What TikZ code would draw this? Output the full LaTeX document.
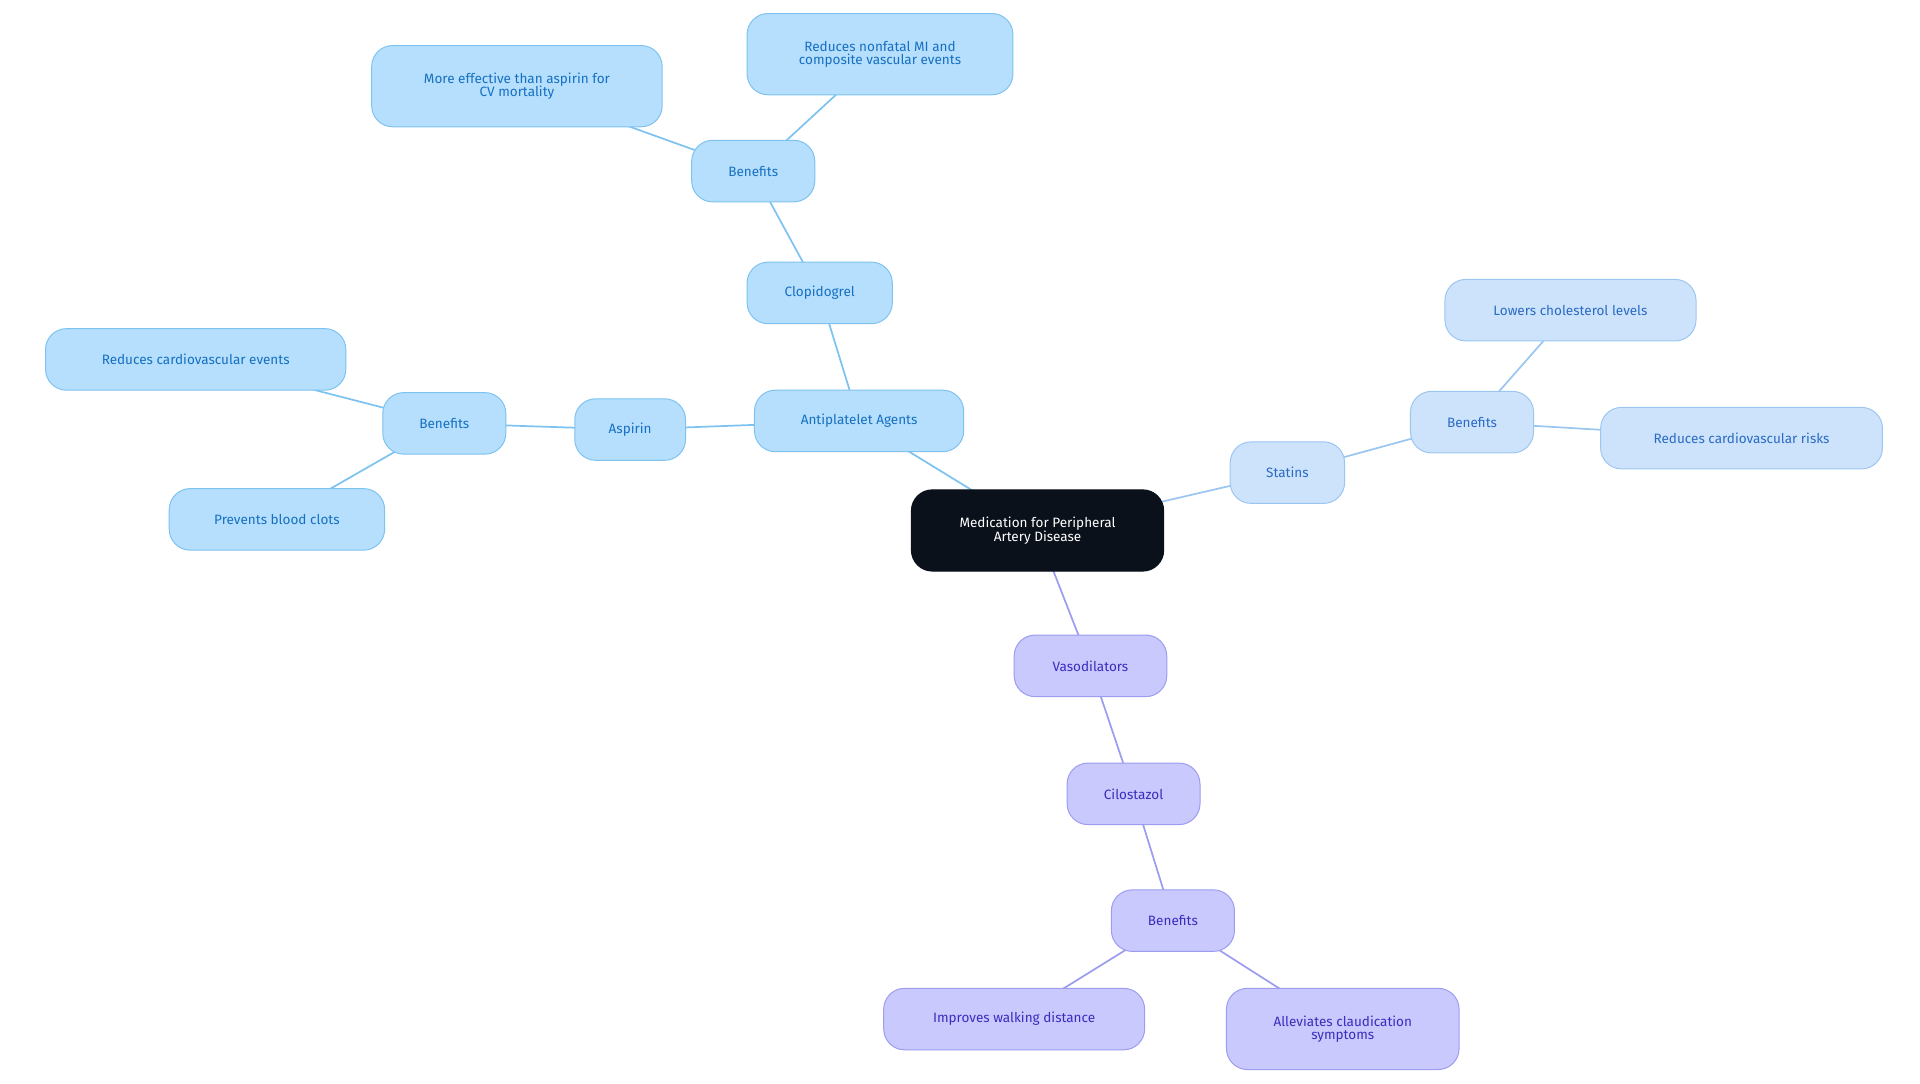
\documentclass[tikz,border=0pt]{standalone}
\usepackage{fontspec}
\setmainfont{Fira Sans}
\usetikzlibrary{backgrounds}
\definecolor{bfill}{HTML}{B5DFFC}\definecolor{bdraw}{HTML}{7EC3F0}\definecolor{btext}{HTML}{1670C2}
\definecolor{sfill}{HTML}{CDE3FB}\definecolor{sdraw}{HTML}{9CC6F2}\definecolor{stext}{HTML}{2A6BC4}
\definecolor{pfill}{HTML}{C9C9FD}\definecolor{pdraw}{HTML}{9C9CF0}\definecolor{ptext}{HTML}{3A2DBE}
\definecolor{cfill}{HTML}{0B111A}
\tikzset{
 box/.style={rounded corners=17pt,align=center,font=\fontsize{11}{11}\selectfont,inner sep=0pt,line width=0.8pt},
 bbox/.style={box,fill=bfill,draw=bdraw,text=btext},
 sbox/.style={box,fill=sfill,draw=sdraw,text=stext},
 pbox/.style={box,fill=pfill,draw=pdraw,text=ptext},
 cbox/.style={box,fill=cfill,draw=cfill,text=white},
 bl/.style={draw=bdraw,line width=1.4pt},
 sl/.style={draw=sdraw,line width=1.4pt},
 pl/.style={draw=pdraw,line width=1.4pt},
}
\begin{document}
\begin{tikzpicture}[x=1pt,y=-1pt]
\useasboundingbox (0,0) rectangle (1560,880);
\node[cbox,minimum width=205,minimum height=66] (c) at (843,431) {Medication for Peripheral\\Artery Disease};
\node[bbox,minimum width=170,minimum height=50] (ap) at (698,342) {Antiplatelet Agents};
\node[bbox,minimum width=90,minimum height=50] (as) at (512,349) {Aspirin};
\node[bbox,minimum width=100,minimum height=50] (ba) at (361,344) {Benefits};
\node[bbox,minimum width=244,minimum height=50] (rce) at (159,292) {Reduces cardiovascular events};
\node[bbox,minimum width=175,minimum height=50] (pbc) at (225,422) {Prevents blood clots};
\node[bbox,minimum width=118,minimum height=50] (cl) at (666,238) {Clopidogrel};
\node[bbox,minimum width=100,minimum height=50] (bc) at (612,139) {Benefits};
\node[bbox,minimum width=236,minimum height=66] (me) at (420,70) {More effective than aspirin for\\CV mortality};
\node[bbox,minimum width=216,minimum height=66] (rn) at (715,44) {Reduces nonfatal MI and\\composite vascular events};
\node[sbox,minimum width=93,minimum height=50] (st) at (1046,384) {Statins};
\node[sbox,minimum width=100,minimum height=50] (bs) at (1196,343) {Benefits};
\node[sbox,minimum width=204,minimum height=50] (lc) at (1276,252) {Lowers cholesterol levels};
\node[sbox,minimum width=229,minimum height=50] (rcr) at (1415,356) {Reduces cardiovascular risks};
\node[pbox,minimum width=124,minimum height=50] (va) at (886,541) {Vasodilators};
\node[pbox,minimum width=108,minimum height=50] (ci) at (921,645) {Cilostazol};
\node[pbox,minimum width=100,minimum height=50] (bv) at (953,748) {Benefits};
\node[pbox,minimum width=212,minimum height=50] (iw) at (824,828) {Improves walking distance};
\node[pbox,minimum width=189,minimum height=66] (al) at (1091,836) {Alleviates claudication\\symptoms};
\begin{scope}[on background layer]
\draw[bl] (c.center)--(ap.center); \draw[bl] (ap.center)--(as.center); \draw[bl] (as.center)--(ba.center);
\draw[bl] (ba.center)--(rce.center); \draw[bl] (ba.center)--(pbc.center);
\draw[bl] (ap.center)--(cl.center); \draw[bl] (cl.center)--(bc.center);
\draw[bl] (bc.center)--(me.center); \draw[bl] (bc.center)--(rn.center);
\draw[sl] (c.center)--(st.center); \draw[sl] (st.center)--(bs.center);
\draw[sl] (bs.center)--(lc.center); \draw[sl] (bs.center)--(rcr.center);
\draw[pl] (c.center)--(va.center); \draw[pl] (va.center)--(ci.center); \draw[pl] (ci.center)--(bv.center);
\draw[pl] (bv.center)--(iw.center); \draw[pl] (bv.center)--(al.center);
\end{scope}
\end{tikzpicture}
\end{document}
